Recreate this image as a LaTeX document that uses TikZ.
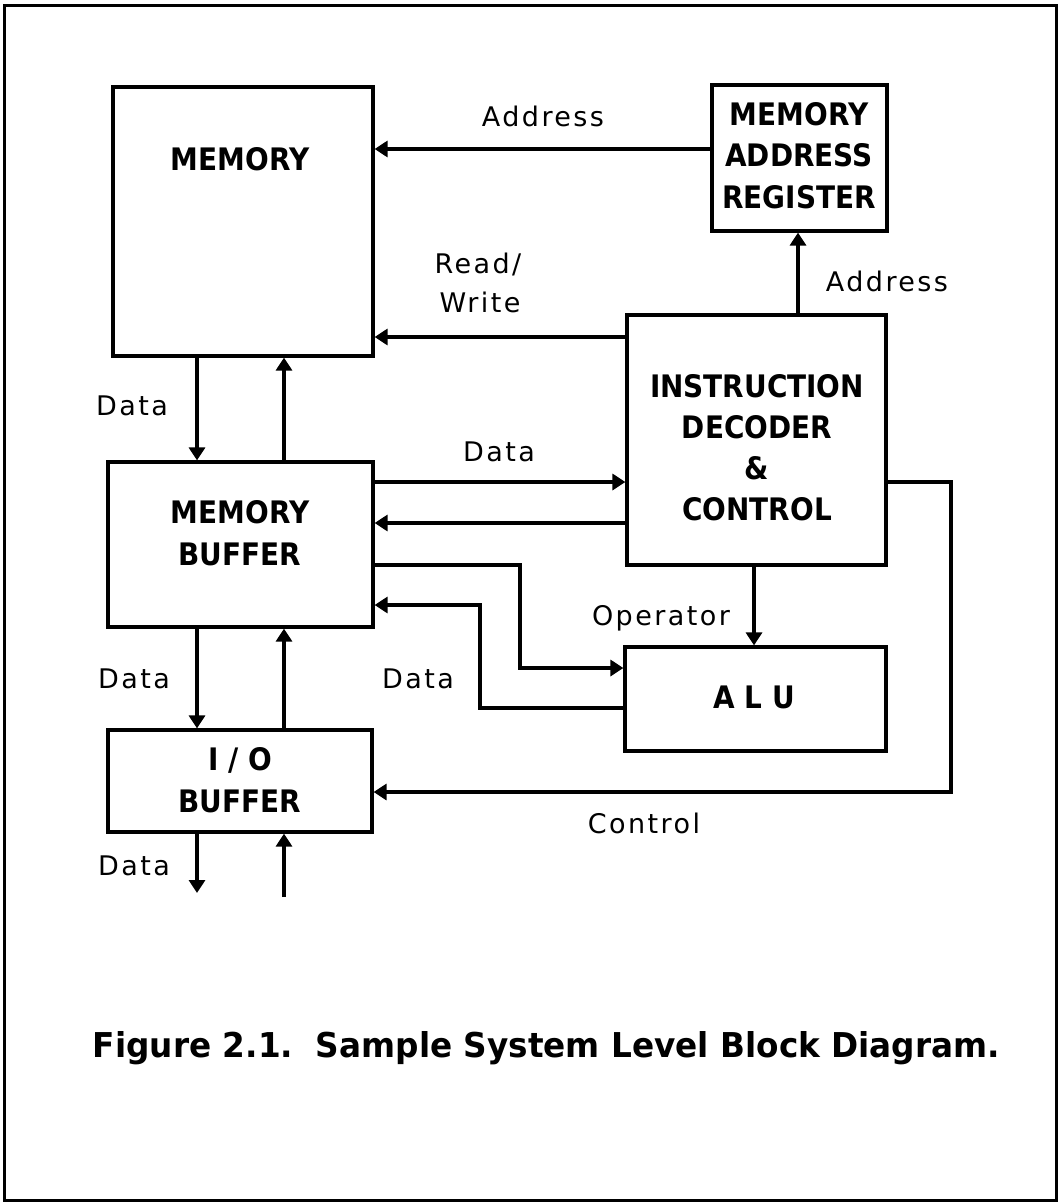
\documentclass[tikz,border=0pt]{standalone}
\usepackage{fontspec}
\setmainfont{DejaVu Sans}[LetterSpace=9]
\newfontfamily\boxfont{DejaVu Sans}[FakeStretch=0.9]
\usetikzlibrary{arrows.meta,calc}
\begin{document}
\begin{tikzpicture}[x=1pt,y=-1pt,
  wire/.style={line width=3.2pt},
  arr/.style={wire,-{Triangle[length=13pt,width=16pt]}},
  blk/.style={draw,line width=3.2pt,inner sep=0pt,rectangle},
  lbl/.style={anchor=base,inner sep=0pt,font={\fontsize{27}{32}\selectfont}},
  bl/.style={anchor=base,inner sep=0pt,font={\boxfont\bfseries\fontsize{31}{38}\selectfont}}]
\useasboundingbox (0,0) rectangle (1060,1204);
\fill[white] (0,0) rectangle (1060,1204);
\draw[line width=3pt] (4,6) rectangle (1056,1200);

% blocks
\node[blk,minimum width=260pt,minimum height=269pt] (mem) at (243,221.5) {};
\node[blk,minimum width=175pt,minimum height=146pt] (mar) at (799.5,158) {};
\node[blk,minimum width=259pt,minimum height=250pt] (ins) at (756.5,440) {};
\node[blk,minimum width=265pt,minimum height=165pt] (mb) at (240.5,544.5) {};
\node[blk,minimum width=261pt,minimum height=104pt] (alu) at (755.5,699) {};
\node[blk,minimum width=264pt,minimum height=102pt] (io) at (240,781) {};

% block texts
\node[bl] (memT) at (240,170) {MEMORY};
\node[bl] (marT1) at (799,125) {MEMORY};
\node[bl] (marT2) at (799,166) {ADDRESS};
\node[bl] (marT3) at (799,208) {REGISTER};
\node[bl] (insT1) at (757,397) {INSTRUCTION};
\node[bl] (insT2) at (757,438) {DECODER};
\node[bl] (insT3) at (757,479) {\&};
\node[bl] (insT4) at (757,520) {CONTROL};
\node[bl] (mbT1) at (240,523) {MEMORY};
\node[bl] (mbT2) at (240,565) {BUFFER};
\node[bl] (ioT1) at (240,770) {I / O};
\node[bl] (ioT2) at (240,812) {BUFFER};
\node[bl] (aluT) at (754,708) {A L U};

% free ends
\coordinate (ioout) at (197,893);
\coordinate (ioin) at (284,897);

% connectors
\draw[arr] (mar.west |- 0,149) -- (mem.east |- 0,149);
\draw[arr] (ins.west |- 0,337) -- (mem.east |- 0,337);
\draw[arr] (ins.north -| 798,0) -- (mar.south -| 798,0);
\draw[arr] (mem.south -| 197,0) -- (mb.north -| 197,0);
\draw[arr] (mb.north -| 284,0) -- (mem.south -| 284,0);
\draw[arr] (mb.east |- 0,482) -- (ins.west |- 0,482);
\draw[arr] (ins.west |- 0,523) -- (mb.east |- 0,523);
\draw[arr] (mb.east |- 0,565) -| (520,668) -- (alu.west |- 0,668);
\draw[arr] (alu.west |- 0,708) -| (480,605) -- (mb.east |- 0,605);
\draw[arr] (ins.south -| 754,0) -- (alu.north -| 754,0);
\draw[arr] (ins.east |- 0,482) -| (951,792) -- (io.east |- 0,792);
\draw[arr] (mb.south -| 197,0) -- (io.north -| 197,0);
\draw[arr] (io.north -| 284,0) -- (mb.south -| 284,0);
\draw[arr] (io.south -| 197,0) -- (ioout);
\draw[arr] (ioin) -- (io.south -| 284,0);

% connector labels
\node[lbl] (l1) at (543,127) {Address};
\node[lbl] (l2) at (887,291) {Address};
\node[lbl] (l3) at (478,273) {Read/};
\node[lbl] (l4) at (480,312) {Write};
\node[lbl] (l5) at (132,415) {Data};
\node[lbl] (l6) at (499,461) {Data};
\node[lbl] (l7) at (661,625) {Operator};
\node[lbl] (l8) at (134,688) {Data};
\node[lbl] (l9) at (418,688) {Data};
\node[lbl] (l10) at (644,833) {Control};
\node[lbl] (l11) at (134,875) {Data};

% caption
\node[anchor=base,inner sep=0pt] (cap) at (546.5,1057)
  {\resizebox{907pt}{26pt}{\boxfont\bfseries Figure 2.1.\ \ Sample System Level Block Diagram.}};
\end{tikzpicture}
\end{document}
